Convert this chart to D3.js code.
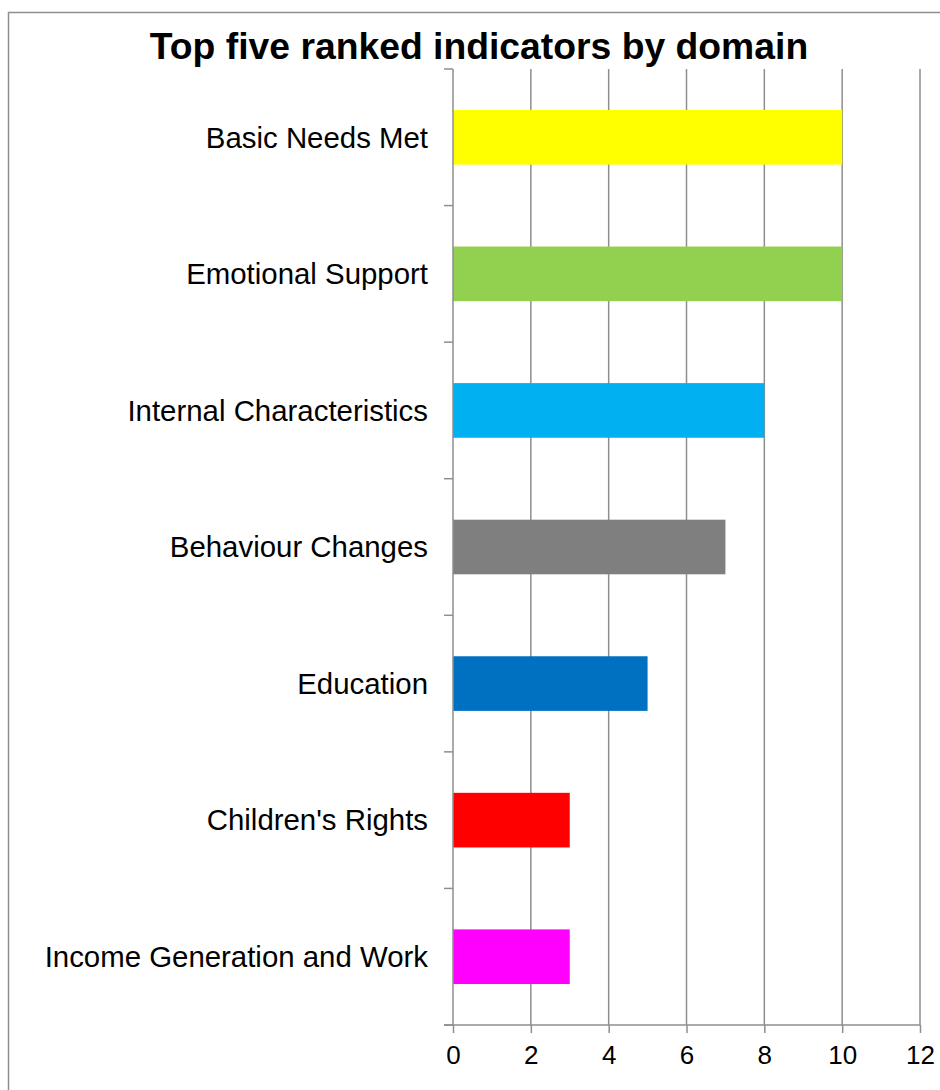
<!DOCTYPE html>
<html lang="en">
<head>
    <meta charset="UTF-8">
    <title>Top five ranked indicators by domain</title>
    <script src="https://d3js.org/d3.v7.min.js"></script>
    <style>
        body { margin: 0; background: #fff; }
        text { font-family: "Liberation Sans", Arial, sans-serif; fill: #000; }
    </style>
</head>
<body>
    <svg width="940" height="1090"></svg>
    <script>
        // data
        const domains = ['Basic Needs Met', 'Emotional Support', 'Internal Characteristics',
            'Behaviour Changes', 'Education', "Children's Rights", 'Income Generation and Work'];
        const counts = [10, 10, 8, 7, 5, 3, 3];
        const colours = ['#FFFF00', '#92D050', '#00B0F0', '#7F7F7F', '#0070C0', '#FF0000', '#FF00FF'];
        const xTicks = [0, 2, 4, 6, 8, 10, 12];

        const svg = d3.select('svg');
        const grey = '#8e8e8e';

        // outer frame (runs off the right and bottom edge)
        svg.append('rect')
            .attr('x', 8.5).attr('y', 12.5)
            .attr('width', 960).attr('height', 1100)
            .attr('fill', 'none')
            .attr('stroke', grey)
            .attr('stroke-width', 1.5);

        svg.append('text')
            .attr('x', 479).attr('y', 59)
            .attr('text-anchor', 'middle')
            .style('font-size', '37.3px')
            .style('font-weight', 'bold')
            .text('Top five ranked indicators by domain');

        const plotLeft = 453, plotRight = 920, plotTop = 69, plotBottom = 1025;

        const x = d3.scaleLinear().domain([0, 12]).range([plotLeft, plotRight]);
        const y = d3.scaleBand().domain(domains).range([plotTop, plotBottom]).paddingInner(0.6).paddingOuter(0.3);

        // vertical gridlines
        svg.append('g')
            .selectAll('line')
            .data(xTicks.slice(1))
            .join('line')
            .attr('x1', d => x(d)).attr('x2', d => x(d))
            .attr('y1', plotTop).attr('y2', plotBottom)
            .attr('stroke', grey)
            .attr('stroke-width', 1.5);

        // bars
        svg.append('g')
            .selectAll('rect')
            .data(domains)
            .join('rect')
            .attr('x', x(0))
            .attr('y', d => y(d))
            .attr('width', (d, i) => x(counts[i]) - x(0))
            .attr('height', y.bandwidth())
            .attr('fill', (d, i) => colours[i]);

        // x axis
        const xAxis = d3.axisBottom(x)
            .tickValues(xTicks)
            .tickSize(8)
            .tickPadding(13);
        const gx = svg.append('g')
            .attr('transform', `translate(0, ${plotBottom})`)
            .call(xAxis);
        gx.select('.domain').remove();
        gx.append('line')
            .attr('x1', plotLeft - 9).attr('x2', plotRight)
            .attr('stroke', grey).attr('stroke-width', 1.5);
        gx.selectAll('.tick line').attr('stroke', grey).attr('stroke-width', 1.5);
        gx.selectAll('.tick text')
            .style('font-size', '26px')
            .style('font-family', '"Liberation Sans", Arial, sans-serif')
            .attr('fill', '#000');

        // y axis: ticks on category boundaries, labels centred in bands
        const step = y.step();
        const bounds = d3.range(domains.length + 1).map(i => plotTop + i * step);
        const gy = svg.append('g');
        gy.append('line')
            .attr('x1', plotLeft).attr('x2', plotLeft)
            .attr('y1', plotTop).attr('y2', plotBottom)
            .attr('stroke', grey).attr('stroke-width', 1.5);
        gy.selectAll('line.tick')
            .data(bounds)
            .join('line')
            .attr('class', 'tick')
            .attr('x1', plotLeft - 9).attr('x2', plotLeft)
            .attr('y1', d => d).attr('y2', d => d)
            .attr('stroke', grey).attr('stroke-width', 1.5);
        gy.selectAll('text')
            .data(domains)
            .join('text')
            .attr('x', plotLeft - 25)
            .attr('y', d => y(d) + y.bandwidth() / 2)
            .attr('dy', '0.35em')
            .attr('text-anchor', 'end')
            .style('font-size', '29.4px')
            .text(d => d);
    </script>
</body>
</html>
